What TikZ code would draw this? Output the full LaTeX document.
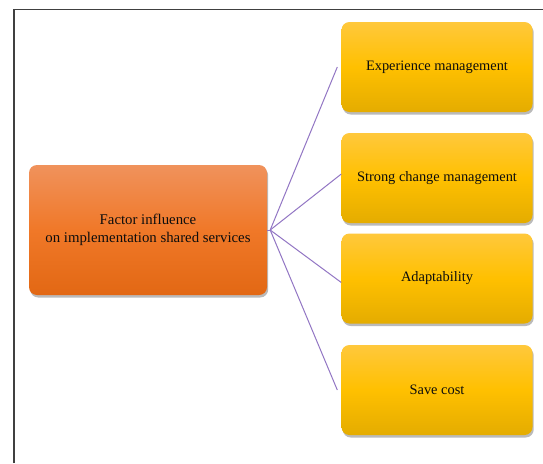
\documentclass[tikz,border=0pt]{standalone}
\usepackage{fontspec}
\setmainfont{Liberation Serif}
\usetikzlibrary{shadows}
\definecolor{linec}{RGB}{146,118,196}
\definecolor{ortop}{RGB}{240,146,92}
\definecolor{ormid}{RGB}{240,120,40}
\definecolor{orbot}{RGB}{226,104,20}
\definecolor{yetop}{RGB}{255,200,60}
\definecolor{yemid}{RGB}{255,192,0}
\definecolor{yebot}{RGB}{228,172,0}
\tikzset{
  basebox/.style={rounded corners=8pt, minimum width=191pt, minimum height=90pt,
    align=center, inner sep=2pt, text=black!95,
    drop shadow={shadow xshift=1.2pt, shadow yshift=-2.5pt, opacity=0.45, fill=black!60}},
  ybox/.style={basebox, top color=yetop, bottom color=yebot, middle color=yemid,
    font=\fontsize{14.4}{17}\selectfont},
  obox/.style={basebox, minimum width=238pt, minimum height=130pt,
    top color=ortop, bottom color=orbot, middle color=ormid,
    font=\fontsize{14.8}{18}\selectfont},
  conn/.style={draw=linec, line width=1pt}
}
\begin{document}
\begin{tikzpicture}[x=1pt,y=-1pt]
\useasboundingbox (0,0) rectangle (543,463);
\fill[white] (0,0) rectangle (543,463);
\draw[line width=1.2pt, black!75] (14,463) -- (14,9.5) -- (543,9.5);
\node[obox] (f) at (148,230) {Factor influence\\ on implementation shared services};
\node[ybox] (e) at (437,67) {Experience management};
\node[ybox] (s) at (437,178) {Strong change management};
\node[ybox] (a) at (437,278.5) {Adaptability};
\node[ybox] (c) at (437,390) {Save cost};
\coordinate (h) at ([xshift=3pt]f.east);
\draw[conn] (f.east) -- (h);
\draw[conn] (h) -- ([xshift=-4pt]e.west);
\draw[conn] (h) -- ([yshift=4pt]s.west);
\draw[conn] (h) -- ([yshift=-4pt]a.west);
\draw[conn] (h) -- ([xshift=-4pt]c.west);
\end{tikzpicture}
\end{document}
